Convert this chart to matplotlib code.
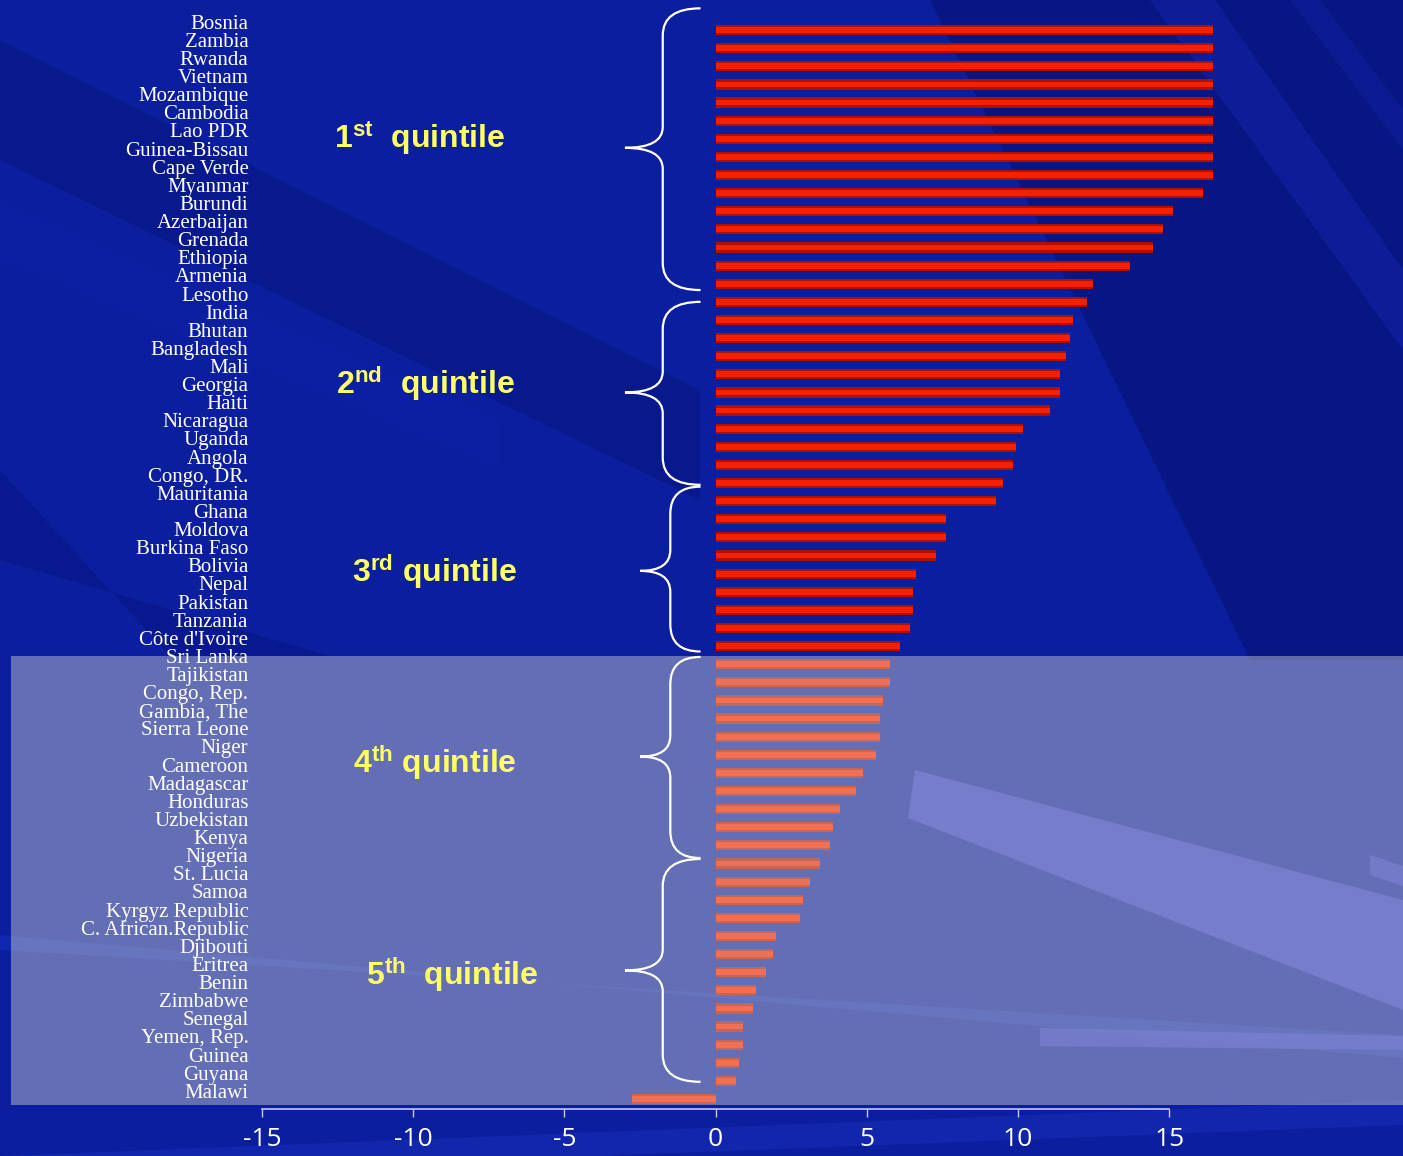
import matplotlib
matplotlib.use('Agg')
import matplotlib.pyplot as plt
from matplotlib.patches import Rectangle, Polygon, PathPatch
from matplotlib.path import Path
import numpy as np

countries = ['Bosnia', 'Zambia', 'Rwanda', 'Vietnam', 'Mozambique', 'Cambodia',
             'Lao PDR', 'Guinea-Bissau', 'Cape Verde', 'Myanmar', 'Burundi',
             'Azerbaijan', 'Grenada', 'Ethiopia', 'Armenia', 'Lesotho', 'India',
             'Bhutan', 'Bangladesh', 'Mali', 'Georgia', 'Haiti', 'Nicaragua',
             'Uganda', 'Angola', 'Congo, DR.', 'Mauritania', 'Ghana', 'Moldova',
             'Burkina Faso', 'Bolivia', 'Nepal', 'Pakistan', 'Tanzania',
             "Côte d'Ivoire", 'Sri Lanka', 'Tajikistan', 'Congo, Rep.',
             'Gambia, The', 'Sierra Leone', 'Niger', 'Cameroon', 'Madagascar',
             'Honduras', 'Uzbekistan', 'Kenya', 'Nigeria', 'St. Lucia', 'Samoa',
             'Kyrgyz Republic', 'C. African.Republic', 'Djibouti', 'Eritrea',
             'Benin', 'Zimbabwe', 'Senegal', 'Yemen, Rep.', 'Guinea', 'Guyana',
             'Malawi']
values = [16.45, 16.45, 16.45, 16.45, 16.45, 16.45, 16.45, 16.45, 16.45, 16.12,
          15.13, 14.80, 14.47, 13.71, 12.48, 12.28, 11.82, 11.72, 11.59, 11.39,
          11.39, 11.06, 10.17, 9.93, 9.83, 9.50, 9.27, 7.62, 7.62, 7.28,
          6.62, 6.52, 6.52, 6.42, 6.09, 5.76, 5.76, 5.53, 5.43, 5.43,
          5.30, 4.87, 4.64, 4.11, 3.87, 3.77, 3.44, 3.11, 2.88, 2.78,
          1.99, 1.89, 1.66, 1.32, 1.23, 0.89, 0.89, 0.76, 0.66, -2.78]
xticks = [-15, -10, -5, 0, 5, 10, 15]

quintile_names = ['1$^{\\mathrm{st}}$  quintile', '2$^{\\mathrm{nd}}$  quintile',
                  '3$^{\\mathrm{rd}}$ quintile', '4$^{\\mathrm{th}}$ quintile',
                  '5$^{\\mathrm{th}}$  quintile']
# brace spans in row units: (start, tip, end)
brace_rows = [(-1.2, 6.5, 14.35), (15.0, 20.0, 25.1), (25.2, 29.85, 34.3),
              (34.6, 40.1, 45.7), (45.75, 51.9, 58.05)]

plt.rcParams['mathtext.fontset'] = 'custom'
plt.rcParams['mathtext.rm'] = 'Liberation Sans:bold'
plt.rcParams['mathtext.bf'] = 'Liberation Sans:bold'
plt.rcParams['mathtext.it'] = 'Liberation Sans:bold'

W, H = 1403, 1156
fig = plt.figure(figsize=(W / 100, H / 100), dpi=100)
fig.patch.set_facecolor('#0b1e9e')

def fpoly(pts, color, alpha):
    p = Polygon([(x / W, 1 - y / H) for x, y in pts], closed=True,
                transform=fig.transFigure, facecolor=color, edgecolor='none',
                alpha=alpha, zorder=-5)
    fig.patches.append(p)

# background streaks
fpoly([(930, 0), (1403, 0), (1403, 660), (1250, 660)], '#040f68', 0.5)
fpoly([(1150, 0), (1215, 0), (1403, 270), (1403, 350)], '#1a30c8', 0.3)
fpoly([(1290, 0), (1320, 0), (1403, 110), (1403, 150)], '#1a30c8', 0.25)
fpoly([(0, 40), (0, 160), (700, 500), (700, 390)], '#041070', 0.35)
fpoly([(0, 470), (0, 560), (330, 656), (170, 656)], '#041070', 0.3)
fpoly([(0, 200), (0, 260), (500, 470), (500, 420)], '#1428b8', 0.2)
fpoly([(915, 770), (908, 818), (1403, 1010), (1403, 900)], '#2b3acb', 0.9)
fpoly([(0, 935), (0, 950), (1403, 1035), (1403, 1058)], '#1530c0', 0.5)
fpoly([(1040, 1028), (1403, 1036), (1403, 1050), (1040, 1046)], '#2b3acb', 0.8)
fpoly([(1370, 855), (1403, 866), (1403, 886), (1370, 875)], '#2b3acb', 0.8)
fpoly([(0, 1156), (1403, 1100), (1403, 1125), (600, 1156)], '#1a2fc0', 0.45)

ax = fig.add_axes([262 / W, 47 / H, 1 - 262 / W, 1109 / H])
ax.set_facecolor('none')

y = np.arange(len(countries))
ax.barh(y, values, height=0.56, color='#b01000', zorder=2)
ax.barh(y, values, height=0.32, color='#f42000', zorder=2.1)

ax.set_xlim(-15, (W - 716) / 30.23)
ax.set_ylim(59.55, -1.66)

# translucent panel over the lower part
ax.add_patch(Rectangle((11 / W, 1 - 1105 / H), 1, 449 / H, transform=fig.transFigure,
                       facecolor='#ebe8d7', alpha=0.4, edgecolor='none',
                       zorder=3, clip_on=False))

for i, name in enumerate(countries):
    ax.text(-15.45, i - 0.32, name, ha='right', va='center', color='white',
            fontsize=15, family='Liberation Serif', zorder=5, clip_on=False)

# braces and quintile labels
for (y0, ym, y1), deep in zip(brace_rows, [0, 0, 1, 1, 0]):
    xe = -0.5
    xv = -1.5 if deep else -1.75
    xt = -2.5 if deep else -3.0
    r = 1.5
    verts = [(xe, y0), (xv, y0), (xv, y0 + r), (xv, ym - 1.15), (xv, ym), (xt, ym),
             (xv, ym), (xv, ym + 1.15), (xv, y1 - r), (xv, y1), (xe, y1)]
    codes = [Path.MOVETO, Path.CURVE3, Path.CURVE3, Path.LINETO, Path.CURVE3, Path.CURVE3,
             Path.CURVE3, Path.CURVE3, Path.LINETO, Path.CURVE3, Path.CURVE3]
    ax.add_patch(PathPatch(Path(verts, codes), facecolor='none', edgecolor='white',
                           lw=1.6, zorder=5, clip_on=False))

label_pos = [(-9.8, 6.0), (-9.6, 19.5), (-9.3, 29.9), (-9.3, 40.4), (-8.7, 52.1)]
for (lx, ly), label in zip(label_pos, quintile_names):
    ax.text(lx, ly, label, ha='center', va='center', color='#ffff66', fontsize=23,
            family='Liberation Sans', fontweight='bold', zorder=6)

for s in ['top', 'left', 'right']:
    ax.spines[s].set_visible(False)
ax.spines['bottom'].set_bounds(-15, 15)
ax.spines['bottom'].set_color('#c8c8f0')
ax.spines['bottom'].set_linewidth(1.2)
ax.set_xticks(xticks)
ax.set_xticklabels([str(t) for t in xticks], family='Open Sans', fontsize=19, color='white')
ax.tick_params(axis='x', colors='#c8c8f0', length=6, width=1, pad=7, labelcolor='white')
ax.set_yticks([])

fig.savefig('out.png', dpi=100, facecolor=fig.get_facecolor())
